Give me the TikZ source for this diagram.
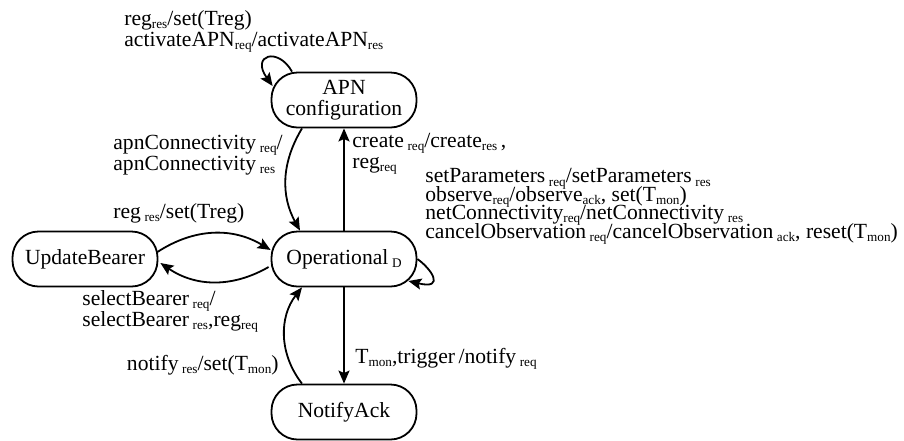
\documentclass[tikz,border=0pt]{standalone}
\usepackage{fontspec}
\setmainfont{Liberation Serif}
\usetikzlibrary{arrows.meta, calc}
\newcommand{\ssub}[1]{\raisebox{-1.6pt}{\fontsize{6.6}{7}\selectfont #1}}

\begin{document}
\begin{tikzpicture}[x=0.5pt, y=-0.5pt,
  statebox/.style={rectangle, draw, line width=0.9pt, rounded corners=13pt,
                   minimum width=72.5pt, minimum height=27.5pt, inner sep=0pt, align=center,
                   font={\fontsize{10.8}{10.5}\selectfont}},
  lbl/.style={align=left, inner sep=0pt, anchor=base west,
              font={\fontsize{10.8}{10.5}\selectfont\lineskiplimit=-6pt}},
  arr/.style={-{Stealth[length=6.5pt, width=5.5pt, inset=1.2pt]}, line width=0.9pt}
]
\useasboundingbox (0,0) rectangle (904,440);

% states
\node[statebox] (apn)  at (344,100) {APN\\configuration};
\node[statebox] (oper) at (344,259) {Operational\,\ssub{D}};
\node[statebox] (upd)  at (85,259)  {UpdateBearer};
\node[statebox] (ntf)  at (344,412) {NotifyAck};

% transitions
\draw[arr] ($(apn.north)+(-52,0)$) .. controls +(-14,-25) and +(-22,-31) .. ($(apn.west)+(2,-14)$);
\draw[arr] ($(apn.south)+(-42,0)$) to[bend right=30] ($(oper.north)+(-44,0)$);
\draw[arr] (oper.north) -- (apn.south);
\draw[arr] (oper.east) .. controls +(13,9) and +(38,9) .. ($(oper.east)+(-9,22)$);
\draw[arr] ($(upd.east)+(-1,-7)$) to[bend left=32] ($(oper.west)+(0,-9)$);
\draw[arr] ($(oper.west)+(-2,8)$) to[bend left=32] ($(upd.east)+(2,4)$);
\draw[arr] (oper.south) -- (ntf.north);
\draw[arr] ($(ntf.north)+(-42,0)$) to[bend left=38] ($(oper.south)+(-42,0)$);

% labels (base = last line)
\node[lbl] (lapnloop) at (124,46) {reg\ssub{res}/set(Treg)\\activateAPN\ssub{req}/activateAPN\ssub{res}};
\node[lbl] (lapnconn) at (113,170) {apnConnectivity\,\ssub{req}/\\apnConnectivity\,\ssub{res}};
\node[lbl] (lcreate)  at (352,168) {create\,\ssub{req}/create\ssub{res}\,,\\reg\ssub{req}};
\node[lbl] (lupdreg)  at (113,218) {reg\,\ssub{res}/set(Treg)};
\node[lbl] (lselect)  at (82,326) {selectBearer\,\ssub{req}/\\selectBearer\,\ssub{res},reg\ssub{req}};
\node[lbl, font={\fontsize{10.8}{9.2}\selectfont\lineskiplimit=-6pt}] (loperloop) at (425,238)
  {setParameters\,\ssub{req}/setParameters\,\ssub{res}\\
   observe\ssub{req}/observe\ssub{ack}, set(T\ssub{mon})\\
   netConnectivity\ssub{req}/netConnectivity\,\ssub{res}\\
   cancelObservation\,\ssub{req}/cancelObservation\,\ssub{ack}, reset(T\ssub{mon})};
\node[lbl, anchor=base east] (lnotify) at (279,370) {notify\,\ssub{res}/set(T\ssub{mon})};
\node[lbl] (ltrigger) at (355,363) {T\ssub{mon},trigger\,/notify\,\ssub{req}};
\end{tikzpicture}
\end{document}
